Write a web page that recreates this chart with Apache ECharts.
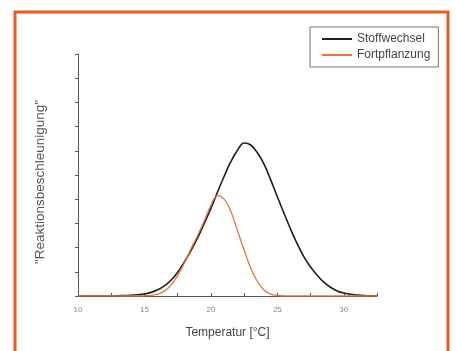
<!DOCTYPE html>
<html>
<head>
<meta charset="UTF-8">
<title>Reaktionsbeschleunigung</title>
<script src="https://cdn.jsdelivr.net/npm/echarts@6/dist/echarts.min.js"></script>
<style>
  html, body { margin: 0; padding: 0; background: #fff; }
  #chart { width: 456px; height: 351px; }
</style>
</head>
<body>
<div id="chart"></div>
<script>
const temperatur = [10, 10.5, 11, 11.5, 12, 12.5, 13, 13.5, 14, 14.5, 15, 15.5, 16, 16.5, 17, 17.5, 18, 18.5, 19, 19.5,
  20, 20.5, 21, 21.5, 22, 22.5, 23, 23.5, 24, 24.5, 25, 25.5, 26, 26.5, 27, 27.5, 28, 28.5, 29, 29.5,
  30, 30.5, 31, 31.5, 32, 32.5];
const stoffwechsel = [0, 0, 0, 0, 0, 0, 0.01, 0.02, 0.03, 0.05, 0.08, 0.15, 0.26, 0.42, 0.65, 0.98, 1.4, 1.88, 2.4, 3.0,
  3.62, 4.3, 4.95, 5.55, 6.02, 6.32, 6.24, 5.92, 5.45, 4.8, 4.1, 3.42, 2.76, 2.15, 1.62, 1.2, 0.86, 0.57, 0.36, 0.21,
  0.12, 0.07, 0.04, 0.02, 0.01, 0];
const fortpflanzung = [0, 0, 0, 0, 0, 0, 0, 0, 0, 0, 0.01, 0.03, 0.08, 0.2, 0.45, 0.85, 1.35, 1.95, 2.5, 3.1,
  3.75, 4.15, 4.0, 3.5, 2.7, 1.9, 1.15, 0.6, 0.25, 0.08, 0.02, 0, 0, 0, 0, 0, 0, 0, 0, 0,
  0, 0, 0, 0, 0, 0];

const xTicks = [10, 15, 20, 25, 30];

const pairs = (xs, ys) => xs.map((x, i) => [x, ys[i]]);

const chart = echarts.init(document.getElementById('chart'));
chart.setOption({
  animation: false,
  textStyle: { fontFamily: 'Liberation Sans, Arial, sans-serif' },
  graphic: [{
    type: 'rect',
    shape: { x: 15, y: 12, width: 433, height: 360 },
    style: { fill: 'none', stroke: '#ea5a24', lineWidth: 3 },
    silent: true
  }],
  grid: { left: 78, right: 79, top: 54, bottom: 55 },
  legend: {
    orient: 'vertical',
    left: 310,
    top: 27,
    padding: [6, 8, 6, 12],
    itemGap: 4,
    itemWidth: 30,
    itemHeight: 2,
    icon: 'path://M0,0H30V2H0Z',
    borderColor: '#777',
    borderWidth: 1,
    textStyle: { fontSize: 12, color: '#444' },
    data: ['Stoffwechsel', 'Fortpflanzung']
  },
  xAxis: {
    type: 'value',
    min: 10,
    max: 32.5,
    interval: 5,
    name: 'Temperatur [°C]',
    nameLocation: 'middle',
    nameGap: 31,
    nameTextStyle: { fontSize: 12, color: '#444' },
    axisLine: { lineStyle: { color: '#555', width: 1 } },
    axisTick: { inside: true, length: 3, lineStyle: { color: '#555' } },
    minorTick: { show: true, splitNumber: 2, length: 3, lineStyle: { color: '#555' } },
    axisLabel: {
      fontSize: 8, color: '#888', margin: 10, showMaxLabel: false,
      formatter: v => (xTicks.indexOf(v) >= 0 ? String(v) : '')
    },
    splitLine: { show: false }
  },
  yAxis: {
    type: 'value',
    min: 0,
    max: 10,
    interval: 1,
    name: '"Reaktionsbeschleunigung"',
    nameLocation: 'middle',
    nameGap: 31,
    nameTextStyle: { fontSize: 13.5, color: '#555', padding: [0, 14, 0, 0] },
    axisLine: { show: true, lineStyle: { color: '#555', width: 1 } },
    axisTick: { show: true, length: 3, lineStyle: { color: '#555' } },
    axisLabel: { show: false },
    splitLine: { show: false }
  },
  series: [
    {
      name: 'Stoffwechsel',
      type: 'line',
      smooth: 0.4,
      symbol: 'none',
      data: pairs(temperatur, stoffwechsel),
      lineStyle: { color: '#1c1f1a', width: 1.6 },
      itemStyle: { color: '#1c1f1a' },
      z: 3
    },
    {
      name: 'Fortpflanzung',
      type: 'line',
      smooth: 0.4,
      symbol: 'none',
      data: pairs(temperatur, fortpflanzung),
      lineStyle: { color: '#e8743c', width: 1.3 },
      itemStyle: { color: '#e8743c' },
      z: 4
    }
  ]
});
</script>
</body>
</html>
